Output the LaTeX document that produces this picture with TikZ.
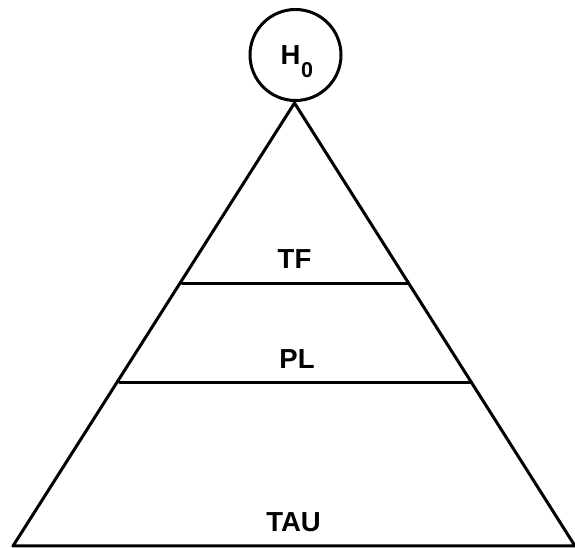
\documentclass[tikz,border=0pt]{standalone}
\usepackage{fontspec}
\setmainfont{Liberation Sans}
\begin{document}
\begin{tikzpicture}[x=1pt,y=1pt,
  edge/.style={line width=3pt, line join=round, line cap=round},
  lbl/.style={font=\fontsize{27.5}{27.5}\selectfont\bfseries, inner sep=0pt}]
\useasboundingbox (0,0) rectangle (575,548);
% circle H0
\node[draw, circle, line width=3pt, minimum size=91pt, inner sep=0pt] (hcirc) at (295.5,493) {};
\node[lbl, anchor=base west] (h0) at (280.5,483) {H\kern0.5pt\raisebox{-13pt}{\fontsize{21.5}{21.5}\selectfont 0}};
% triangle corners
\coordinate (apex) at (294.5,445);
\coordinate (bl) at (13,2);
\coordinate (br) at (575,2);
% layer line ends
\coordinate (tfl) at (182,264.5);
\coordinate (tfr) at (408.5,264.5);
\coordinate (pll) at (119.5,165.5);
\coordinate (plr) at (471.5,165.5);
\draw[edge] (apex) -- (bl) -- (br) -- cycle;
\draw[edge] (tfl) -- (tfr);
\draw[edge] (pll) -- (plr);
% labels
\node[lbl] (tf) at (294.5,289) {TF};
\node[lbl] (pl) at (297,189) {PL};
\node[lbl] (tau) at (293.5,26) {TAU};
\end{tikzpicture}
\end{document}
